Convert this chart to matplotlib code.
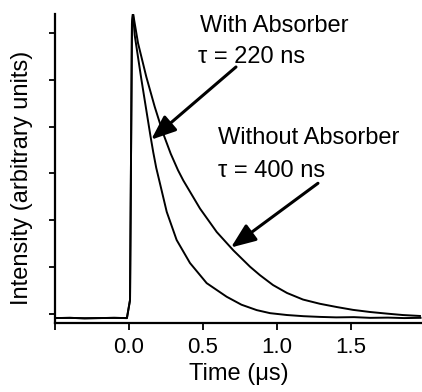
import matplotlib
matplotlib.use("Agg")
import matplotlib.pyplot as plt

plt.rcParams['font.family'] = ['Liberation Sans', 'DejaVu Sans']

# shared baseline + laser rise (time in µs, intensity in arbitrary units)
time_rise = [-0.50, -0.40, -0.30, -0.20, -0.10, -0.02, -0.014, 0.007, 0.020, 0.027]
int_rise = [-0.085, -0.08, -0.09, -0.085, -0.08, -0.085, -0.085, 0.30, 6.20, 6.42]

# With absorber (tau = 220 ns)
time_with = [0.0385, 0.083, 0.117, 0.145, 0.164, 0.184, 0.209, 0.255, 0.322,
             0.412, 0.525, 0.660, 0.760, 0.863, 0.953, 1.068, 1.18, 1.29,
             1.40, 1.52, 1.63, 1.75, 1.86, 1.97]
int_with = [5.95, 5.02, 4.35, 3.80, 3.45, 3.12, 2.79, 2.18, 1.58,
            1.09, 0.66, 0.37, 0.20, 0.085, 0.02, -0.02, -0.045, -0.06,
            -0.07, -0.065, -0.08, -0.075, -0.085, -0.08]

# Without absorber (tau = 400 ns)
time_without = [0.061, 0.117, 0.174, 0.230, 0.282, 0.331, 0.367, 0.480, 0.593,
                0.705, 0.818, 0.885, 0.973, 1.068, 1.176, 1.29, 1.405, 1.514,
                1.628, 1.743, 1.85, 1.966]
int_without = [5.78, 5.06, 4.42, 3.86, 3.42, 3.07, 2.85, 2.25, 1.75,
               1.36, 1.01, 0.83, 0.62, 0.45, 0.31, 0.22, 0.15, 0.09,
               0.045, 0.01, -0.02, -0.04]

x_ticks = [-0.5, 0.0, 0.5, 1.0, 1.5]
x_tick_labels = ["", "0.0", "0.5", "1.0", "1.5"]
y_ticks = [0, 1, 2, 3, 4, 5, 6]

fig = plt.figure(figsize=(4.22, 3.92), dpi=100)
ax = fig.add_axes([55/422, 1 - 323/392, 367/422, 309/392])

ax.plot(time_rise + time_with, int_rise + int_with, color='black', lw=1.4)
ax.plot(time_rise + time_without, int_rise + int_without, color='black', lw=1.4)

ax.set_xlim(-0.5, 1.98)
ax.set_ylim(-0.19, 6.40)
ax.set_xticks(x_ticks)
ax.set_xticklabels(x_tick_labels, fontsize=16)
ax.set_yticks(y_ticks)
ax.set_yticklabels([])
ax.tick_params(axis='x', direction='out', length=5, width=1.3, pad=5)
ax.tick_params(axis='y', direction='out', length=4, width=1.3)
for s in ['top', 'right']:
    ax.spines[s].set_visible(False)
for s in ['left', 'bottom']:
    ax.spines[s].set_linewidth(1.6)

ax.set_xlabel("Time (\u03bcs)", fontsize=17, labelpad=4)
ax.set_ylabel("Intensity (arbitrary units)", fontsize=17)
ax.yaxis.set_label_coords(-22/367, 0.47)

fs = 17
ax.text(0.48, 6.01, "With Absorber", fontsize=fs, ha='left', va='baseline')
ax.text(0.466, 5.35, "\u03c4 = 220 ns", fontsize=fs, ha='left', va='baseline')
ax.text(0.60, 3.62, "Without Absorber", fontsize=fs, ha='left', va='baseline')
ax.text(0.60, 2.92, "\u03c4 = 400 ns", fontsize=fs, ha='left', va='baseline')

arrow = dict(arrowstyle='-|>,head_length=0.75,head_width=0.3', color='black',
             lw=2.2, shrinkA=0, shrinkB=0, mutation_scale=20)
ax.annotate("", xy=(0.150, 3.72), xytext=(0.723, 5.27), arrowprops=arrow)
ax.annotate("", xy=(0.689, 1.42), xytext=(1.277, 2.79), arrowprops=arrow)

fig.savefig("out.png", dpi=100)
